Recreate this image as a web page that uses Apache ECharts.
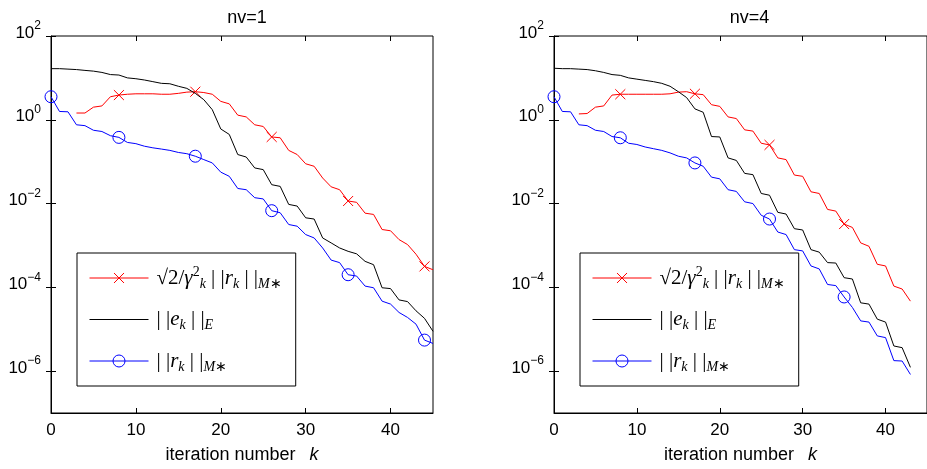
<!DOCTYPE html>
<html>
<head>
<meta charset="utf-8">
<script src="https://cdn.jsdelivr.net/npm/echarts@6/dist/echarts.min.js"></script>
<style>
  html, body { margin: 0; padding: 0; background: #fff; }
  #chart { width: 927px; height: 469px; }
</style>
</head>
<body>
<div id="chart"></div>
<script>
// panel titles
const titles = ['nv=1', 'nv=4']
const xMax = 45
const xTicks = [0, 10, 20, 30, 40]
const yTicks = [1e-6, 1e-4, 1e-2, 1, 1e2]

// series names (legend)
const NAME_BOUND = '√2/γ_k^2 ||r_k||_M*'
const NAME_ERR = '||e_k||_E'
const NAME_RES = '||r_k||_M*'

// nv=1, value at iteration k = index (null = not computed)
const boundNv1 = [null, null, null, 1.45, 1.45, 2.00, 2.14, 3.55, 3.89, 4.07,
  4.17, 4.17, 4.17, 4.07, 4.07, 4.27, 4.57, 4.68, 4.47, 4.07,
  2.75, 2.40, 1.29, 1.17, 0.759, 0.692, 0.389, 0.372, 0.186, 0.148,
  0.0891, 0.0776, 0.0407, 0.0251, 0.0214, 0.0115, 0.0107, 5.89e-3, 5.50e-3, 2.40e-3,
  2.24e-3, 1.38e-3, 1.05e-3, 6.17e-4, 3.16e-4, 2.63e-4]
const errNv1 = [16.6, 16.6, 16.2, 15.8, 15.1, 14.5, 13.5, 12.0, 11.7, 10.0,
  9.55, 8.91, 8.13, 7.41, 7.24, 6.31, 5.62, 4.27, 3.02, 1.74,
  0.603, 0.447, 0.148, 0.129, 0.0708, 0.0646, 0.0282, 0.0257, 9.55e-3, 8.71e-3,
  4.57e-3, 4.27e-3, 1.51e-3, 1.15e-3, 8.71e-4, 7.24e-4, 6.31e-4, 4.17e-4, 3.47e-4, 9.77e-5,
  9.33e-5, 5.01e-5, 4.57e-5, 2.75e-5, 1.82e-5, 8.91e-6]
const resNv1 = [3.55, 1.58, 1.55, 0.759, 0.724, 0.562, 0.525, 0.417, 0.380, 0.288,
  0.269, 0.234, 0.214, 0.200, 0.186, 0.166, 0.155, 0.135, 0.112, 0.0933,
  0.0562, 0.0447, 0.0229, 0.0214, 0.0138, 0.0129, 6.76e-3, 6.03e-3, 3.16e-3, 2.88e-3,
  1.82e-3, 1.51e-3, 8.71e-4, 4.47e-4, 3.89e-4, 2.00e-4, 1.86e-4, 1.07e-4, 9.77e-5, 4.68e-5,
  3.98e-5, 2.51e-5, 1.91e-5, 1.32e-5, 5.50e-6, 4.57e-6]

// nv=4
const boundNv4 = [null, null, null, 1.38, 1.41, 2.00, 2.14, 3.89, 4.07, 4.07,
  4.07, 4.07, 4.07, 4.07, 4.17, 4.57, 4.68, 4.17, 3.98, 2.29,
  2.09, 1.17, 1.07, 0.575, 0.537, 0.275, 0.251, 0.123, 0.112, 0.0479,
  0.0447, 0.0191, 0.0174, 7.24e-3, 6.61e-3, 3.24e-3, 2.69e-3, 1.15e-3, 9.55e-4, 3.55e-4,
  3.24e-4, 1.07e-4, 9.12e-5, 4.68e-5]
const errNv4 = [17.0, 16.6, 16.6, 16.2, 15.8, 14.8, 13.5, 12.0, 11.5, 10.0,
  9.33, 8.71, 8.13, 7.41, 6.31, 4.68, 3.39, 1.82, 1.51, 0.398,
  0.389, 0.123, 0.107, 0.0525, 0.0490, 0.0174, 0.0158, 6.17e-3, 5.62e-3, 2.51e-3,
  2.34e-3, 7.94e-4, 6.92e-4, 3.89e-4, 3.80e-4, 1.70e-4, 1.58e-4, 4.27e-5, 3.98e-5, 1.74e-5,
  1.48e-5, 3.98e-6, 3.63e-6, 1.23e-6]
const resNv4 = [3.55, 1.58, 1.55, 0.759, 0.724, 0.562, 0.525, 0.398, 0.372, 0.275,
  0.257, 0.224, 0.204, 0.186, 0.162, 0.135, 0.123, 0.0933, 0.0776, 0.0427,
  0.0389, 0.0214, 0.0195, 0.0110, 0.0100, 5.25e-3, 4.27e-3, 2.09e-3, 1.82e-3, 7.94e-4,
  7.41e-4, 3.24e-4, 2.75e-4, 1.17e-4, 1.10e-4, 5.89e-5, 3.31e-5, 1.58e-5, 1.48e-5, 6.92e-6,
  6.31e-6, 1.78e-6, 1.74e-6, 8.32e-7]

// iterations that carry a marker
const boundMarks = [8, 17, 26, 35, 44]
const resMarks = [0, 8, 17, 26, 35, 44]

const RED = '#ff0000'
const BLUE = '#0000ff'
const BLACK = '#000000'
const SANS = 'Liberation Sans'
const SERIF = 'Liberation Serif'
// x marker, padded so the cross is a bit smaller than the circle
const CROSS = 'path://M0,0L0,0.01M1,1L11,11M11,1L1,11M12,12L12,12.01'
const CLEAR = 'rgba(0,0,0,0)'

const grids = [
  { left: 51, top: 36, width: 382, height: 377 },
  { left: 554, top: 36, width: 381, height: 377 }
]

const makeSeries = (name, values, color, symbol, marks, gi) => {
  const data = []
  values.forEach((v, k) => {
    if (v == null) return
    data.push({ value: [k, v], symbol: marks.includes(k) ? symbol : 'none' })
  })
  return {
    name,
    type: 'line',
    xAxisIndex: gi * 2,
    yAxisIndex: gi * 2,
    data,
    symbol,
    symbolSize: 12,
    showSymbol: true,
    showAllSymbol: true,
    lineStyle: { color, width: 1 },
    itemStyle: { color: CLEAR, borderColor: symbol === 'none' ? CLEAR : color, borderWidth: 1 },
    emphasis: { disabled: true },
    z: name === NAME_ERR ? 3 : 2
  }
}

const tickStyle = { inside: true, length: 5, lineStyle: { color: BLACK, width: 1 } }

const xAxes = []
const yAxes = []
grids.forEach((g, gi) => {
  xAxes.push({
    type: 'value', gridIndex: gi, min: 0, max: xMax, position: 'bottom',
    axisLine: { show: true, onZero: false, lineStyle: { color: BLACK, width: 1 } },
    axisTick: Object.assign({ customValues: xTicks }, tickStyle),
    axisLabel: { customValues: xTicks, margin: 9, color: BLACK, fontSize: 17, fontFamily: SANS },
    splitLine: { show: false },
    name: '{a|iteration number}{k|k}',
    nameLocation: 'middle',
    nameGap: 33,
    nameTextStyle: {
      rich: {
        a: { fontSize: 18, fontFamily: SANS, color: BLACK },
        k: { fontSize: 18, fontFamily: SANS, fontStyle: 'italic', color: BLACK, padding: [0, 0, 0, 14] }
      }
    }
  })
  xAxes.push({
    type: 'value', gridIndex: gi, min: 0, max: xMax, position: 'top',
    axisLine: { show: false },
    axisTick: Object.assign({ customValues: xTicks }, tickStyle),
    axisLabel: { show: false },
    splitLine: { show: false }
  })
  yAxes.push({
    type: 'log', logBase: 10, gridIndex: gi, min: 1e-7, max: 1e2, position: 'left',
    axisLine: { show: true, onZero: false, lineStyle: { color: BLACK, width: 1 } },
    axisTick: Object.assign({ customValues: yTicks }, tickStyle),
    minorTick: { show: false },
    axisLabel: {
      customValues: yTicks,
      margin: 10,
      padding: [0, 0, 6, 0],
      formatter: v => {
        const e = Math.round(Math.log10(v))
        return '{b|10}{s|' + String(e).replace('-', '−') + '}'
      },
      rich: {
        b: { fontSize: 17, fontFamily: SANS, color: BLACK, lineHeight: 26 },
        s: { fontSize: 12, fontFamily: SANS, color: BLACK, lineHeight: 9, verticalAlign: 'top' }
      }
    },
    splitLine: { show: false }
  })
  yAxes.push({
    type: 'log', logBase: 10, gridIndex: gi, min: 1e-7, max: 1e2, position: 'right',
    axisLine: { show: false },
    axisTick: Object.assign({ customValues: yTicks }, tickStyle),
    axisLabel: { show: false },
    splitLine: { show: false }
  })
})

const legendRich = {
  n: { fontSize: 21, fontFamily: SERIF, color: BLACK, lineHeight: 26 },
  i: { fontSize: 21, fontFamily: SERIF, fontStyle: 'italic', color: BLACK, lineHeight: 26 },
  sub: { fontSize: 14, fontFamily: SERIF, fontStyle: 'italic', color: BLACK, lineHeight: 10, verticalAlign: 'bottom' },
  subn: { fontSize: 14, fontFamily: SERIF, color: BLACK, lineHeight: 10, verticalAlign: 'bottom' },
  sup: { fontSize: 14, fontFamily: SERIF, color: BLACK, lineHeight: 10, verticalAlign: 'top' }
}
const legendText = {
  [NAME_BOUND]: '{n|√2/}{i|γ}{sup|2}{sub|k}{n| | |}{i|r}{sub|k}{n| | |}{sub|M}{subn|∗}',
  [NAME_ERR]: '{n|| |}{i|e}{sub|k}{n| | |}{sub|E}',
  [NAME_RES]: '{n|| |}{i|r}{sub|k}{n| | |}{sub|M}{subn|∗}'
}
const legendData = [
  { name: NAME_BOUND, itemStyle: { color: CLEAR, borderColor: RED, borderWidth: 1 }, lineStyle: { color: RED, width: 1 } },
  { name: NAME_ERR, itemStyle: { color: CLEAR, borderColor: CLEAR, borderWidth: 0 }, lineStyle: { color: BLACK, width: 1 } },
  { name: NAME_RES, itemStyle: { color: CLEAR, borderColor: BLUE, borderWidth: 1 }, lineStyle: { color: BLUE, width: 1 } }
]

const chart = echarts.init(document.getElementById('chart'))
chart.setOption({
  animation: false,
  backgroundColor: '#fff',
  title: grids.map((g, gi) => ({
    text: titles[gi],
    left: g.left + g.width / 2,
    top: 4,
    textAlign: 'center',
    textStyle: { fontSize: 18, fontWeight: 'normal', fontFamily: SANS, color: BLACK }
  })),
  grid: grids.map(g => Object.assign({ show: true, borderColor: BLACK, borderWidth: 1, backgroundColor: '#fff' }, g)),
  legend: grids.map(g => ({
    orient: 'vertical',
    left: g.left + 26,
    top: 253,
    itemWidth: 59,
    itemHeight: 15,
    itemGap: 18,
    padding: [12, 14, 12, 12],
    backgroundColor: '#fff',
    borderColor: BLACK,
    borderWidth: 1,
    selectedMode: false,
    data: legendData,
    formatter: name => legendText[name],
    textStyle: { rich: legendRich, padding: [0, 0, 0, 3] }
  })),
  xAxis: xAxes,
  yAxis: yAxes,
  series: [
    makeSeries(NAME_BOUND, boundNv1, RED, CROSS, boundMarks, 0),
    makeSeries(NAME_ERR, errNv1, BLACK, 'none', [], 0),
    makeSeries(NAME_RES, resNv1, BLUE, 'circle', resMarks, 0),
    makeSeries(NAME_BOUND, boundNv4, RED, CROSS, boundMarks, 1),
    makeSeries(NAME_ERR, errNv4, BLACK, 'none', [], 1),
    makeSeries(NAME_RES, resNv4, BLUE, 'circle', resMarks, 1)
  ]
})
</script>
</body>
</html>
